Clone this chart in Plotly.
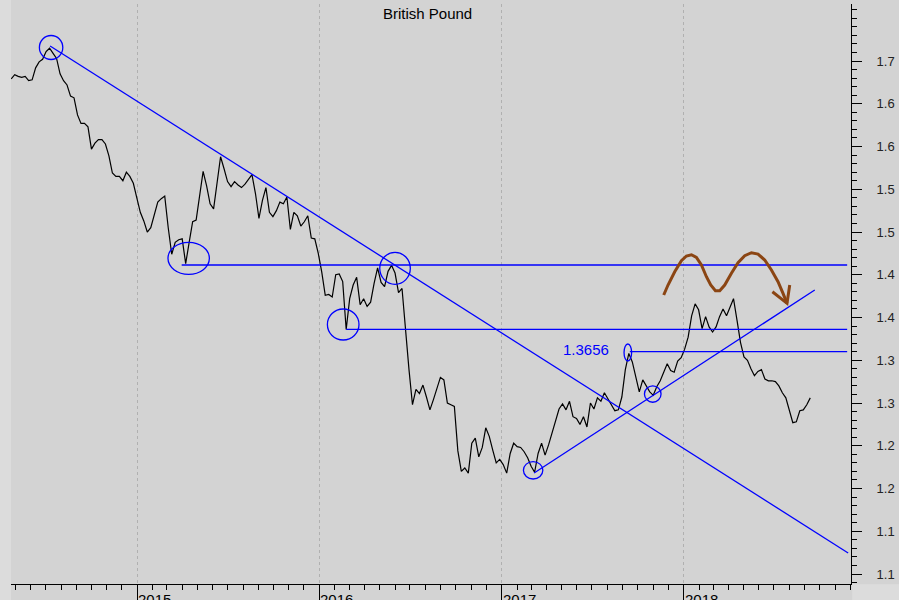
import plotly.graph_objects as go
import pandas as pd

# ---------------- data ----------------
title_text = "British Pound"
start_date = "2014-04-23"
gbp_usd = [
    1.679, 1.684, 1.682, 1.681, 1.682, 1.677, 1.678, 1.692, 1.699, 1.702,
    1.711, 1.715, 1.709, 1.703, 1.685, 1.677, 1.672, 1.659, 1.657, 1.637,
    1.627, 1.627, 1.623, 1.597, 1.604, 1.608, 1.608, 1.603, 1.589, 1.569,
    1.565, 1.565, 1.560, 1.570, 1.565, 1.557, 1.540, 1.523, 1.513, 1.500,
    1.505, 1.521, 1.535, 1.539, 1.542, 1.505, 1.474, 1.488, 1.491, 1.492,
    1.463, 1.488, 1.512, 1.514, 1.542, 1.571, 1.554, 1.533, 1.527, 1.557,
    1.588, 1.574, 1.559, 1.553, 1.559, 1.555, 1.552, 1.556, 1.562, 1.567,
    1.545, 1.516, 1.537, 1.552, 1.523, 1.518, 1.525, 1.535, 1.533, 1.541,
    1.503, 1.523, 1.519, 1.507, 1.512, 1.519, 1.493, 1.492, 1.475, 1.453,
    1.426, 1.427, 1.424, 1.450, 1.451, 1.442, 1.386, 1.422, 1.438, 1.447,
    1.415, 1.422, 1.413, 1.418, 1.440, 1.458, 1.441, 1.436, 1.454, 1.461,
    1.452, 1.429, 1.434, 1.385, 1.339, 1.298, 1.316, 1.311, 1.321, 1.307,
    1.292, 1.304, 1.318, 1.330, 1.327, 1.300, 1.298, 1.296, 1.244, 1.220,
    1.224, 1.218, 1.253, 1.259, 1.237, 1.248, 1.271, 1.261, 1.245, 1.230,
    1.234, 1.228, 1.218, 1.241, 1.253, 1.249, 1.248, 1.243, 1.236, 1.226,
    1.219, 1.241, 1.253, 1.239, 1.251, 1.266, 1.280, 1.293, 1.299, 1.292,
    1.302, 1.284, 1.282, 1.275, 1.284, 1.272, 1.300, 1.293, 1.306, 1.302,
    1.312, 1.305, 1.299, 1.291, 1.292, 1.307, 1.339, 1.358, 1.348, 1.329,
    1.313, 1.327, 1.320, 1.313, 1.309, 1.319, 1.326, 1.336, 1.346, 1.338,
    1.336, 1.349, 1.353, 1.363, 1.377, 1.402, 1.416, 1.409, 1.387, 1.401,
    1.389, 1.383, 1.389, 1.401, 1.410, 1.402, 1.412, 1.422, 1.397, 1.371,
    1.354, 1.350, 1.340, 1.332, 1.337, 1.339, 1.328, 1.326, 1.326, 1.325,
    1.320, 1.312, 1.306, 1.292, 1.277, 1.278, 1.291, 1.292, 1.298, 1.306,
]
dates = pd.date_range(start_date, periods=len(gbp_usd), freq="7D")

x_range = ["2014-04-22 14:00", "2018-12-02 17:00"]
y_range = [1.0883, 1.7667]
y_tickvals = [1.10, 1.15, 1.20, 1.25, 1.30, 1.35, 1.40, 1.45, 1.50, 1.55, 1.60, 1.65, 1.70]
y_ticktext = ["1.1", "1.1", "1.2", "1.2", "1.3", "1.3", "1.4", "1.4", "1.5", "1.5", "1.6", "1.6", "1.7"]
year_labels = ["2015", "2016", "2017", "2018"]
year_dates = ["2015-01-01", "2016-01-01", "2017-01-01", "2018-01-01"]

downtrend_dates = ["2014-07-10", "2018-11-27"]
downtrend_values = [1.7175, 1.1246]
uptrend_dates = ["2017-03-07", "2018-09-21"]
uptrend_values = [1.2181, 1.4322]
level_values = [1.4614, 1.3862, 1.3600]
level_start_dates = ["2015-03-31", "2016-02-24", "2017-09-15"]
level_end_date = "2018-11-25"
marker_dates = ["2014-07-12", "2015-04-14", "2016-02-18", "2016-06-01",
                "2017-03-05", "2017-09-11", "2017-10-31"]
marker_values = [1.7158, 1.4692, 1.3918, 1.4575, 1.2213, 1.3591, 1.3105]
level_label = "1.3656"
wave_anchor_date = "2017-11-22"
wave_anchor_value = 1.4263

# ---------------- styles ----------------
BLUE = "#0000ff"
BROWN = "#8b4513"
BG = "#d3d3d3"
FONT = "Liberation Sans, Arial, sans-serif"
marker_sizes = [(11.7, 12), (20.7, 16), (15.8, 15.5), (15.3, 16), (9.7, 8.7), (3.8, 8.5), (8.3, 8.2)]
wave_pts = [(0, 0), (4.3, 10), (11, 23.3), (17.7, 34.3), (22.7, 39), (27.7, 40.3), (32.7, 37.7),
            (37.7, 30), (42.7, 18.3), (47, 10), (51.7, 4.3), (56, 4.3), (61, 10), (67.7, 21.7),
            (74.3, 32.3), (81, 39.3), (87.7, 42.3), (94.3, 41), (101, 35), (107.7, 25),
            (114.3, 13.3), (119.3, 1.7), (123.3, -8.3)]
arrow_pts = [(108.7, 3.3), (123.3, -8.3), (126, 10)]

fig = go.Figure()
fig.add_trace(go.Scatter(x=dates, y=gbp_usd, mode="lines",
                         line=dict(color="black", width=1.2), hoverinfo="skip",
                         showlegend=False))

shapes = []
# lighter frame pieces
shapes.append(dict(type="rect", xref="paper", yref="paper", x0=-0.0131, x1=0, y0=-0.03, y1=1.01,
                   fillcolor="#dcdcdc", line=dict(width=0), layer="below"))
shapes.append(dict(type="rect", xref="paper", yref="paper", x0=1.0015, x1=1.06, y0=-0.03, y1=-0.0005,
                   fillcolor="#dcdcdc", line=dict(width=0), layer="below"))
# trend lines
shapes.append(dict(type="line", xref="x", yref="y", x0=downtrend_dates[0], x1=downtrend_dates[1],
                   y0=downtrend_values[0], y1=downtrend_values[1], line=dict(color=BLUE, width=1.3)))
shapes.append(dict(type="line", xref="x", yref="y", x0=uptrend_dates[0], x1=uptrend_dates[1],
                   y0=uptrend_values[0], y1=uptrend_values[1], line=dict(color=BLUE, width=1.3)))
for v, s in zip(level_values, level_start_dates):
    shapes.append(dict(type="line", xref="x", yref="y", x0=s, x1=level_end_date, y0=v, y1=v,
                       line=dict(color=BLUE, width=1.3)))
for d, v, (rx, ry) in zip(marker_dates, marker_values, marker_sizes):
    shapes.append(dict(type="circle", xref="x", yref="y", xsizemode="pixel", ysizemode="pixel",
                       xanchor=d, yanchor=v, x0=-rx, x1=rx, y0=-ry, y1=ry,
                       line=dict(color=BLUE, width=1.3)))
wave_path = "M " + " L ".join(f"{a} {b}" for a, b in wave_pts)
arrow_path = "M " + " L ".join(f"{a} {b}" for a, b in arrow_pts)
for p in (wave_path, arrow_path):
    shapes.append(dict(type="path", xref="x", yref="y", xsizemode="pixel", ysizemode="pixel",
                       xanchor=wave_anchor_date, yanchor=wave_anchor_value, path=p,
                       line=dict(color=BROWN, width=3)))

annotations = [
    dict(text=title_text, xref="paper", yref="paper", x=0.4964, y=0.9828, xanchor="center",
         yanchor="middle", showarrow=False, font=dict(family=FONT, size=15, color="black")),
    dict(text=level_label, xref="x", yref="y", x=marker_dates[5], y=marker_values[5],
         xanchor="right", yanchor="middle", xshift=-17, yshift=3, showarrow=False,
         font=dict(family=FONT, size=15, color=BLUE)),
]
for lab, d in zip(year_labels, year_dates):
    annotations.append(dict(text=lab, xref="x", yref="paper", x=d, y=0, xanchor="left",
                            yanchor="top", xshift=-1, yshift=-5, showarrow=False,
                            font=dict(family=FONT, size=15, color="black")))

fig.update_layout(
    width=899, height=600,
    margin=dict(l=11, r=48, t=4, b=16, autoexpand=False),
    paper_bgcolor=BG, plot_bgcolor=BG,
    font=dict(family=FONT, color="#222"),
    shapes=shapes, annotations=annotations,
    showlegend=False,
    xaxis=dict(type="date", range=x_range, showgrid=True, gridcolor="#b0b0b0", griddash="dot",
               gridwidth=1, tick0="2015-01-01", dtick="M12", ticks="outside", ticklen=16,
               tickcolor="black", tickwidth=1, showticklabels=False, showline=True,
               linecolor="black", linewidth=1, zeroline=False, automargin=False,
               minor=dict(tick0="2015-01-01", dtick="M1", ticks="outside", ticklen=5,
                          tickcolor="black", tickwidth=1, showgrid=False)),
    yaxis=dict(side="right", range=y_range, tickmode="array", tickvals=y_tickvals,
               ticktext=y_ticktext, ticks="outside", ticklen=10, tickcolor="black",
               tickwidth=1, showline=True, linecolor="black", linewidth=1, showgrid=False,
               zeroline=False, ticklabelstandoff=12, automargin=False,
               tickfont=dict(family=FONT, size=13, color="#222"),
               minor=dict(tick0=1.1, dtick=0.01, ticks="outside", ticklen=5,
                          tickcolor="black", tickwidth=1, showgrid=False)),
)

fig.write_html("out.html", config={"displayModeBar": False},
               post_script="document.body.style.margin='0px';document.body.style.background='#d3d3d3';")
